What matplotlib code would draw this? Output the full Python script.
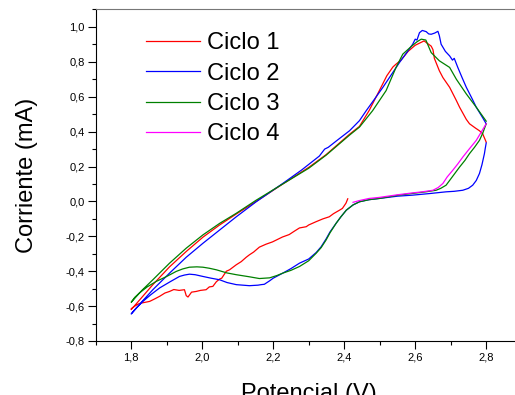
import matplotlib
matplotlib.use("Agg")
import matplotlib.pyplot as plt
from matplotlib.ticker import MultipleLocator, FuncFormatter

# ---- data ----
c1_v = [2.410, 2.405, 2.395, 2.387, 2.370, 2.358, 2.340, 2.321, 2.300, 2.293, 2.274, 2.260, 2.245, 2.226, 2.210, 2.198,
        2.180, 2.161, 2.145, 2.133, 2.124, 2.110, 2.096, 2.077, 2.068, 2.055, 2.049, 2.040, 2.030, 2.020, 2.011, 1.995,
        1.983, 1.970, 1.960, 1.955, 1.950, 1.935, 1.920, 1.908, 1.895, 1.880, 1.865, 1.852, 1.835, 1.823, 1.810, 1.800,
        1.800, 1.830, 1.861, 1.908, 1.955, 2.002, 2.049, 2.096, 2.152, 2.227, 2.300, 2.349, 2.415, 2.443, 2.470, 2.499,
        2.520, 2.537, 2.545, 2.560, 2.580, 2.600, 2.617, 2.625, 2.635, 2.645, 2.650, 2.654, 2.668, 2.678, 2.697, 2.716,
        2.725, 2.744, 2.753, 2.770, 2.781, 2.790, 2.800]
c1_i = [0.015, -0.010, -0.040, -0.050, -0.070, -0.088, -0.100, -0.116, -0.135, -0.145, -0.152, -0.170, -0.190, -0.204,
        -0.220, -0.232, -0.245, -0.262, -0.290, -0.306, -0.320, -0.345, -0.363, -0.392, -0.400, -0.440, -0.445, -0.460,
        -0.487, -0.490, -0.506, -0.510, -0.516, -0.520, -0.548, -0.540, -0.506, -0.510, -0.505, -0.516, -0.525, -0.544,
        -0.560, -0.573, -0.580, -0.585, -0.600, -0.615,
        -0.620, -0.550, -0.477, -0.375, -0.287, -0.205, -0.135, -0.072, 0.000, 0.100, 0.195, 0.268, 0.385, 0.430, 0.520,
        0.635, 0.720, 0.770, 0.785, 0.810, 0.860, 0.895, 0.912, 0.920, 0.905, 0.890, 0.870, 0.820, 0.749, 0.710, 0.654,
        0.578, 0.540, 0.470, 0.445, 0.420, 0.405, 0.388, 0.340]

c2_v = [2.800, 2.797, 2.795, 2.788, 2.781, 2.772, 2.762, 2.750, 2.734, 2.710, 2.687, 2.640, 2.593, 2.550, 2.499, 2.470,
        2.443, 2.425, 2.406, 2.390, 2.377, 2.360, 2.349, 2.335, 2.321, 2.300, 2.274, 2.250, 2.227, 2.200, 2.190, 2.175,
        2.166, 2.157, 2.133, 2.096, 2.070, 2.049, 2.025, 2.002, 1.980, 1.964, 1.950, 1.936, 1.910, 1.880, 1.855, 1.833,
        1.815, 1.800,
        1.830, 1.861, 1.908, 1.955, 2.002, 2.049, 2.096, 2.152, 2.227, 2.280, 2.330, 2.345, 2.355, 2.380, 2.415, 2.443,
        2.462, 2.485, 2.509, 2.556, 2.575, 2.593, 2.600, 2.605, 2.612, 2.620, 2.631, 2.638, 2.645, 2.655, 2.664, 2.668,
        2.673, 2.685, 2.697, 2.705, 2.710, 2.720, 2.732, 2.744, 2.760, 2.772, 2.790, 2.800]
c2_i = [0.335, 0.300, 0.274, 0.210, 0.160, 0.120, 0.093, 0.075, 0.064, 0.058, 0.055, 0.045, 0.036, 0.030, 0.017, 0.010,
        -0.002, -0.020, -0.050, -0.090, -0.126, -0.175, -0.215, -0.260, -0.293, -0.330, -0.354, -0.385, -0.411, -0.440,
        -0.455, -0.475, -0.477, -0.480, -0.483, -0.477, -0.465, -0.449, -0.440, -0.430, -0.420, -0.417, -0.422, -0.430,
        -0.460, -0.496, -0.535, -0.573, -0.610, -0.645,
        -0.575, -0.506, -0.411, -0.320, -0.240, -0.164, -0.088, -0.002, 0.103, 0.180, 0.260, 0.300, 0.310, 0.350, 0.405,
        0.463, 0.520, 0.585, 0.654, 0.797, 0.850, 0.901, 0.930, 0.925, 0.967, 0.980, 0.973, 0.960, 0.958, 0.965, 0.975,
        0.950, 0.901, 0.860, 0.834, 0.810, 0.820, 0.768, 0.710, 0.654, 0.590, 0.540, 0.480, 0.445]

c3_v = [2.800, 2.790, 2.781, 2.767, 2.753, 2.740, 2.725, 2.706, 2.687, 2.672, 2.659, 2.630, 2.593, 2.550, 2.499, 2.470,
        2.443, 2.425, 2.406, 2.390, 2.377, 2.360, 2.349, 2.335, 2.321, 2.300, 2.274, 2.250, 2.227, 2.210, 2.190, 2.161,
        2.133, 2.096, 2.070, 2.040, 2.020, 2.002, 1.985, 1.964, 1.945, 1.927, 1.900, 1.870, 1.845, 1.823, 1.810, 1.800,
        1.830, 1.861, 1.908, 1.955, 2.002, 2.049, 2.096, 2.152, 2.227, 2.300, 2.349, 2.415, 2.443, 2.480, 2.518, 2.546,
        2.565, 2.590, 2.605, 2.617, 2.630, 2.645, 2.668, 2.697, 2.716, 2.744, 2.772, 2.800]
c3_i = [0.445, 0.390, 0.350, 0.310, 0.274, 0.235, 0.197, 0.145, 0.093, 0.075, 0.064, 0.055, 0.046, 0.035, 0.017, 0.010,
        -0.002, -0.020, -0.050, -0.090, -0.126, -0.180, -0.221, -0.265, -0.297, -0.340, -0.373, -0.395, -0.411, -0.425,
        -0.438, -0.442, -0.432, -0.420, -0.410, -0.392, -0.383, -0.377, -0.375, -0.377, -0.387, -0.401, -0.430, -0.459,
        -0.490, -0.525, -0.550, -0.578,
        -0.510, -0.449, -0.354, -0.268, -0.192, -0.126, -0.068, 0.007, 0.100, 0.190, 0.265, 0.380, 0.426, 0.520, 0.635,
        0.768, 0.844, 0.890, 0.915, 0.930, 0.925, 0.853, 0.806, 0.768, 0.700, 0.616, 0.540, 0.460]

c4_v = [2.800, 2.772, 2.752, 2.734, 2.720, 2.706, 2.690, 2.678, 2.665, 2.650, 2.620, 2.593, 2.550, 2.499, 2.470, 2.443,
        2.425]
c4_i = [0.445, 0.350, 0.300, 0.254, 0.215, 0.179, 0.140, 0.103, 0.080, 0.064, 0.055, 0.049, 0.038, 0.023, 0.017, 0.005,
        -0.005]

labels = ["Ciclo 1", "Ciclo 2", "Ciclo 3", "Ciclo 4"]
colors = ["#FF0000", "#0000FF", "#008000", "#FF00FF"]

# ---- plot ----
plt.rcParams['font.family'] = ['Liberation Sans', 'DejaVu Sans']
fig = plt.figure(figsize=(5.15, 3.95), dpi=100)
ax = fig.add_axes([95.7 / 515, 54 / 395, 426 / 515, 331.5 / 395])

for v, i, lab, col in zip([c1_v, c2_v, c3_v, c4_v], [c1_i, c2_i, c3_i, c4_i], labels, colors):
    ax.plot(v, i, color=col, lw=0.9, label=lab)

ax.set_xlim(1.7, 2.9)
ax.set_ylim(-0.8, 1.1)
ax.xaxis.set_major_locator(MultipleLocator(0.2))
ax.xaxis.set_minor_locator(MultipleLocator(0.1))
ax.yaxis.set_major_locator(MultipleLocator(0.2))
ax.yaxis.set_minor_locator(MultipleLocator(0.1))
comma = FuncFormatter(lambda x, p: f"{x:.1f}".replace(".", ",").replace("-0,0", "0,0"))
ax.xaxis.set_major_formatter(comma)
ax.yaxis.set_major_formatter(comma)
ax.set_xticks([1.8, 2.0, 2.2, 2.4, 2.6, 2.8])
ax.tick_params(which='major', direction='out', length=6, width=0.8, labelsize=8, pad=2)
ax.tick_params(which='minor', direction='out', length=3, width=0.8)

ax.spines['top'].set_color('#777777')
ax.spines['right'].set_visible(False)

ax.set_ylabel("Corriente (mA)", fontsize=17, labelpad=20)
ax.set_xlabel("Potencial (V)", fontsize=17, labelpad=15)

leg = fig.legend(loc='upper left', bbox_to_anchor=(146 / 515, 1 - 32 / 395), frameon=False,
                 fontsize=17, handlelength=2.3, handletextpad=0.3, labelspacing=0.36,
                 borderpad=0, borderaxespad=0)

fig.savefig("out.png", dpi=100)
